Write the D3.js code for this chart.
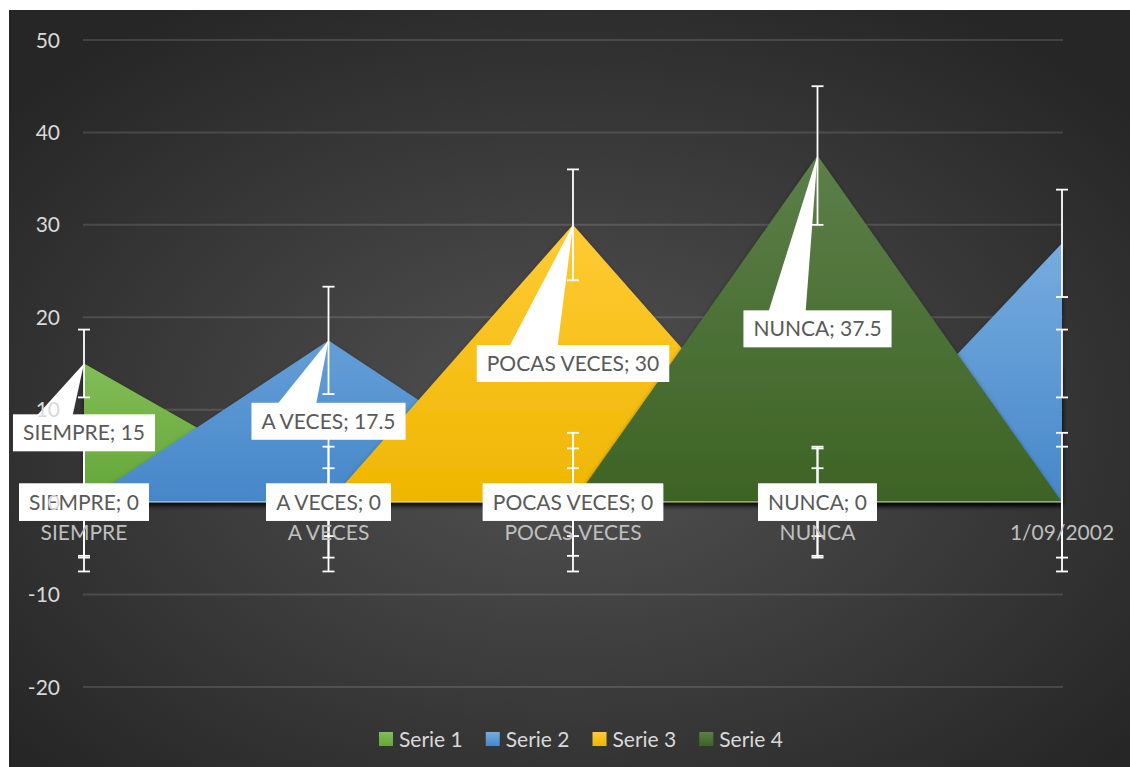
<!DOCTYPE html>
<html>
<head>
<meta charset="utf-8">
<script src="https://cdn.jsdelivr.net/npm/d3@7"></script>
<style>
  html, body { margin: 0; padding: 0; background: #ffffff; }
  svg { display: block; }
  text { font-family: Lato, "Open Sans", "DejaVu Sans", sans-serif; }
</style>
</head>
<body>
<svg id="chart" width="1130" height="767"></svg>
<script>
// ---- data ----
const categories = ["SIEMPRE", "A VECES", "POCAS VECES", "NUNCA", "1/09/2002"];
const seriesNames = ["Serie 1", "Serie 2", "Serie 3", "Serie 4"];
const serie1 = [15, 0, 0, 0, 15];
const serie2 = [0, 17.5, 0, 0, 28];
const serie3 = [0, 0, 30, 0, 0];
const serie4 = [0, 0, 0, 37.5, 0];
const errorSizes = [3.67, 5.81, 6, 7.5];   // standard-error bars per series
const yTicks = [-20, -10, 0, 10, 20, 30, 40, 50];
const labeledCategories = ["SIEMPRE", "A VECES", "POCAS VECES", "NUNCA"];

const seriesValues = [serie1, serie2, serie3, serie4];
const colors = [
  { light: "#82bd57", base: "#64a638" },
  { light: "#76acdf", base: "#4687c9" },
  { light: "#ffcb35", base: "#efb600" },
  { light: "#5c7f49", base: "#3d6324" }
];

const svg = d3.select("#chart");
const defs = svg.append("defs");

// background gradient
const bg = defs.append("radialGradient").attr("id", "bgGrad")
  .attr("cx", "50%").attr("cy", "55%").attr("r", "65%");
bg.append("stop").attr("offset", "0%").attr("stop-color", "#535353");
bg.append("stop").attr("offset", "100%").attr("stop-color", "#262626");

colors.forEach((c, i) => {
  const g = defs.append("linearGradient").attr("id", "areaGrad" + i)
    .attr("x1", 0).attr("y1", 0).attr("x2", 0).attr("y2", 1);
  g.append("stop").attr("offset", "0%").attr("stop-color", c.light);
  g.append("stop").attr("offset", "100%").attr("stop-color", c.base);
});

const sh = defs.append("filter").attr("id", "shadow")
  .attr("x", "-5%").attr("y", "-5%").attr("width", "110%").attr("height", "115%");
sh.append("feDropShadow").attr("dx", 0).attr("dy", 3).attr("stdDeviation", 2.5)
  .attr("flood-color", "#000").attr("flood-opacity", 0.65);

svg.append("rect").attr("x", 9).attr("y", 10).attr("width", 1121).attr("height", 757)
  .attr("fill", "url(#bgGrad)");

// ---- scales ----
const x = d3.scalePoint().domain(categories).range([84, 1062]);
const y = d3.scaleLinear().domain([-20, 50]).range([687, 40]);

// gridlines
svg.append("g").selectAll("line").data(yTicks.filter(t => t !== 0)).join("line")
  .attr("x1", 83).attr("x2", 1063)
  .attr("y1", d => y(d)).attr("y2", d => y(d))
  .attr("stroke", "rgba(255,255,255,0.13)").attr("stroke-width", 2);

// areas
const area = d3.area()
  .x((d, i) => x(categories[i]))
  .y0(y(0))
  .y1(d => y(d));

const areaG = svg.append("g");
seriesValues.forEach((vals, i) => {
  areaG.append("path").datum(vals)
    .attr("d", area)
    .attr("fill", `url(#areaGrad${i})`)
    .attr("filter", "url(#shadow)");
});

// horizontal axis line
svg.append("line")
  .attr("x1", x(categories[0])).attr("x2", x(categories[categories.length - 1]))
  .attr("y1", y(0) - 0.5).attr("y2", y(0) - 0.5)
  .attr("stroke", "rgba(220,220,220,0.55)").attr("stroke-width", 1.5);

// error bars
const errG = svg.append("g").attr("stroke", "#ffffff").attr("stroke-width", 1.8).attr("fill", "none");
seriesValues.forEach((vals, si) => {
  vals.forEach((v, ci) => {
    const cx = x(categories[ci]);
    const e = errorSizes[si];
    errG.append("line").attr("x1", cx).attr("x2", cx)
      .attr("y1", y(v + e)).attr("y2", y(v - e));
    [v + e, v - e].forEach(yy => {
      errG.append("line").attr("x1", cx - 6).attr("x2", cx + 6)
        .attr("y1", y(yy)).attr("y2", y(yy));
    });
  });
});

// data labels (callouts)
const lblG = svg.append("g");
const boxH = 37;
seriesValues.forEach((vals, si) => {
  vals.forEach((v, ci) => {
    const cat = categories[ci];
    if (!labeledCategories.includes(cat)) return;
    const cx = x(cat);
    const cy = y(v / 2);
    const g = lblG.append("g");
    const rect = g.append("rect").attr("fill", "#ffffff");
    const wedge = g.append("path").attr("fill", "#ffffff");
    const t = g.append("text")
      .attr("x", cx).attr("y", cy).attr("dy", "0.36em")
      .attr("text-anchor", "middle")
      .attr("font-size", 21).attr("fill", "#595959")
      .text(`${cat}; ${v}`);
    const w = t.node().getComputedTextLength() + 20;
    const left = cx - w / 2, top = cy - boxH / 2;
    rect.attr("x", left).attr("y", top).attr("width", w).attr("height", boxH);
    if (v !== 0) {
      wedge.attr("d", `M${cx},${y(v)}L${left + 0.17 * w},${top + 1}L${left + 0.42 * w},${top + 1}Z`);
    }
  });
});

// y axis labels
svg.append("g").selectAll("text").data(yTicks).join("text")
  .attr("x", 60).attr("y", d => y(d)).attr("dy", "0.36em")
  .attr("text-anchor", "end").attr("font-size", 21).attr("fill", "#d9d9d9")
  .text(d => d);

// category labels
svg.append("g").selectAll("text").data(categories).join("text")
  .attr("x", d => x(d)).attr("y", 540)
  .attr("text-anchor", "middle").attr("font-size", 21).attr("fill", "#bfbfbf")
  .text(d => d);

// legend
const legG = svg.append("g");
const items = [];
let cursor = 0;
seriesNames.forEach((name, i) => {
  const g = legG.append("g");
  g.append("rect").attr("x", cursor).attr("y", 732).attr("width", 14).attr("height", 14)
    .attr("fill", `url(#areaGrad${i})`);
  const t = g.append("text").attr("x", cursor + 20).attr("y", 739).attr("dy", "0.36em")
    .attr("font-size", 21).attr("fill", "#d9d9d9").text(name);
  cursor += 20 + t.node().getComputedTextLength() + 23;
});
const totalW = cursor - 23;
legG.attr("transform", `translate(${581 - totalW / 2},0)`);
</script>
</body>
</html>
